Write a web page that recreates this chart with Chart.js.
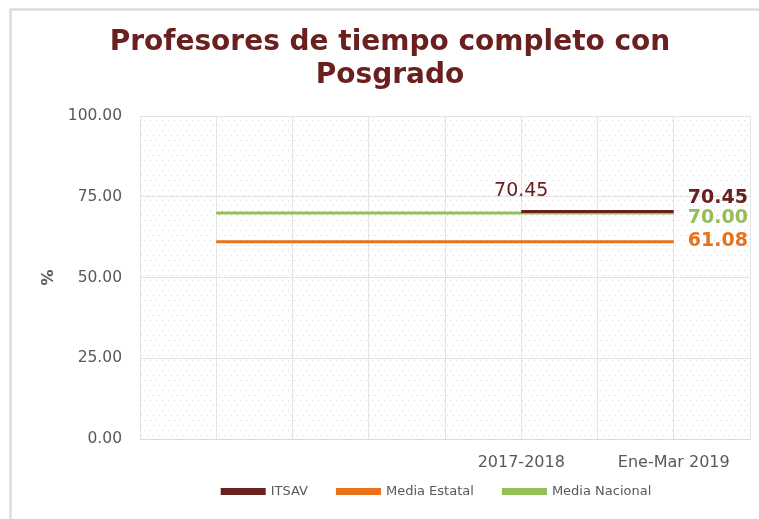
<!DOCTYPE html>
<html>
<head>
<meta charset="utf-8">
<script src="https://cdn.jsdelivr.net/npm/chart.js@4"></script>
<style>
    html, body { margin: 0; padding: 0; background: #ffffff; overflow: hidden; }
    #wrap { width: 759px; height: 519px; }
</style>
</head>
<body>
<div id="wrap"><canvas id="chart" width="759" height="519"></canvas></div>
<script>
// Data
const periods = ['', '', '', '', '', '2017-2018', '', 'Ene-Mar 2019', ''];
const itsav = [null, null, null, null, null, 70.45, 70.45, 70.45, null];
const mediaEstatal = [null, 61.08, 61.08, 61.08, 61.08, 61.08, 61.08, 61.08, null];
const mediaNacional = [null, 70.00, 70.00, 70.00, 70.00, 70.00, 70.00, 70.00, null];
const yTicks = [0, 25, 50, 75, 100];

const MAROON = '#6b2020';
const ORANGE = '#e8711c';
const GREEN = '#94be56';
const GREY = '#595959';
const FONT = "'DejaVu Sans', Verdana, sans-serif";

// Dotted fill for the plot area
function makePattern(ctx) {
    const tile = document.createElement('canvas');
    tile.width = 6;
    tile.height = 10;
    const t = tile.getContext('2d');
    t.fillStyle = '#d6d6d6';
    t.fillRect(0, 0, 1, 1);
    t.fillRect(3, 5, 1, 1);
    return ctx.createPattern(tile, 'repeat');
}

const backgroundPlugin = {
    id: 'background',
    beforeDraw(chart) {
        const { ctx, chartArea } = chart;
        ctx.save();
        // outer frame (only left/top visible in the crop)
        ctx.strokeStyle = '#dcdcdc';
        ctx.lineWidth = 2.5;
        ctx.strokeRect(10.5, 9.5, chart.width + 20, chart.height + 20);
        ctx.fillStyle = makePattern(ctx);
        ctx.fillRect(chartArea.left, chartArea.top, chartArea.right - chartArea.left, chartArea.bottom - chartArea.top);
        ctx.restore();
    }
};

// Data labels: one above the line, three bold at the right end
const labelPlugin = {
    id: 'valueLabels',
    afterDatasetsDraw(chart) {
        const ctx = chart.ctx;
        ctx.save();
        ctx.textBaseline = 'middle';

        const first = chart.getDatasetMeta(0).data[5];
        ctx.font = '19px ' + FONT;
        ctx.fillStyle = MAROON;
        ctx.textAlign = 'center';
        ctx.fillText(itsav[5].toFixed(2), first.x, first.y - 20);

        const ends = [
            { ds: 0, values: itsav, color: MAROON, dy: -13 },
            { ds: 2, values: mediaNacional, color: GREEN, dy: 5 },
            { ds: 1, values: mediaEstatal, color: ORANGE, dy: -1 }
        ];
        ctx.font = 'bold 19px ' + FONT;
        ctx.textAlign = 'left';
        ends.forEach(e => {
            const pt = chart.getDatasetMeta(e.ds).data[7];
            ctx.fillStyle = e.color;
            ctx.fillText(e.values[7].toFixed(2), pt.x + 14, pt.y + e.dy);
        });
        ctx.restore();
    }
};

const ctx = document.getElementById('chart').getContext('2d');
new Chart(ctx, {
    type: 'line',
    data: {
        labels: periods,
        datasets: [
            {
                label: 'ITSAV',
                data: itsav,
                borderColor: MAROON,
                backgroundColor: MAROON,
                borderWidth: 3,
                pointRadius: 0
            },
            {
                label: 'Media Estatal',
                data: mediaEstatal,
                borderColor: ORANGE,
                backgroundColor: ORANGE,
                borderWidth: 3,
                pointRadius: 0
            },
            {
                label: 'Media Nacional',
                data: mediaNacional,
                borderColor: GREEN,
                backgroundColor: GREEN,
                borderWidth: 3,
                pointRadius: 0
            }
        ]
    },
    options: {
        responsive: false,
        animation: false,
        layout: {
            padding: { left: 30, right: 9, top: 10, bottom: 11 }
        },
        scales: {
            x: {
                offset: false,
                afterFit(axis) {
                    axis.height = 33;
                    axis.paddingLeft = 0;
                    axis.paddingRight = 0;
                },
                grid: { color: '#e4e4e4', drawTicks: false },
                border: { color: '#d9d9d9' },
                ticks: {
                    autoSkip: false,
                    maxRotation: 0,
                    padding: 14,
                    color: GREY,
                    font: { family: FONT, size: 16 }
                }
            },
            y: {
                min: 0,
                max: 100,
                afterBuildTicks(axis) {
                    axis.ticks = yTicks.map(v => ({ value: v }));
                },
                afterFit(axis) {
                    axis.width = 110;
                },
                grid: { color: '#e4e4e4', drawTicks: false },
                border: { display: false },
                ticks: {
                    padding: 18,
                    color: GREY,
                    font: { family: FONT, size: 15.5 },
                    callback: v => Number(v).toFixed(2)
                },
                title: {
                    display: true,
                    text: '%',
                    color: GREY,
                    font: { family: FONT, size: 16, weight: 'bold' },
                    padding: { top: 9, bottom: 0 }
                }
            }
        },
        plugins: {
            title: {
                display: true,
                text: ['Profesores de tiempo completo con', 'Posgrado'],
                color: MAROON,
                font: { family: FONT, size: 28, weight: 'bold', lineHeight: 1.18 },
                padding: { top: 16, bottom: 24 }
            },
            legend: {
                position: 'bottom',
                fullSize: false,
                labels: {
                    boxWidth: 42,
                    boxHeight: 4,
                    padding: 13,
                    color: GREY,
                    font: { family: FONT, size: 13 },
                    // trailing spaces widen the gap between entries
                    generateLabels(chart) {
                        return Chart.defaults.plugins.legend.labels.generateLabels(chart)
                            .map(item => Object.assign(item, { text: item.text + '    ' }));
                    }
                }
            },
            tooltip: { enabled: false }
        }
    },
    plugins: [backgroundPlugin, labelPlugin]
});
</script>
</body>
</html>
